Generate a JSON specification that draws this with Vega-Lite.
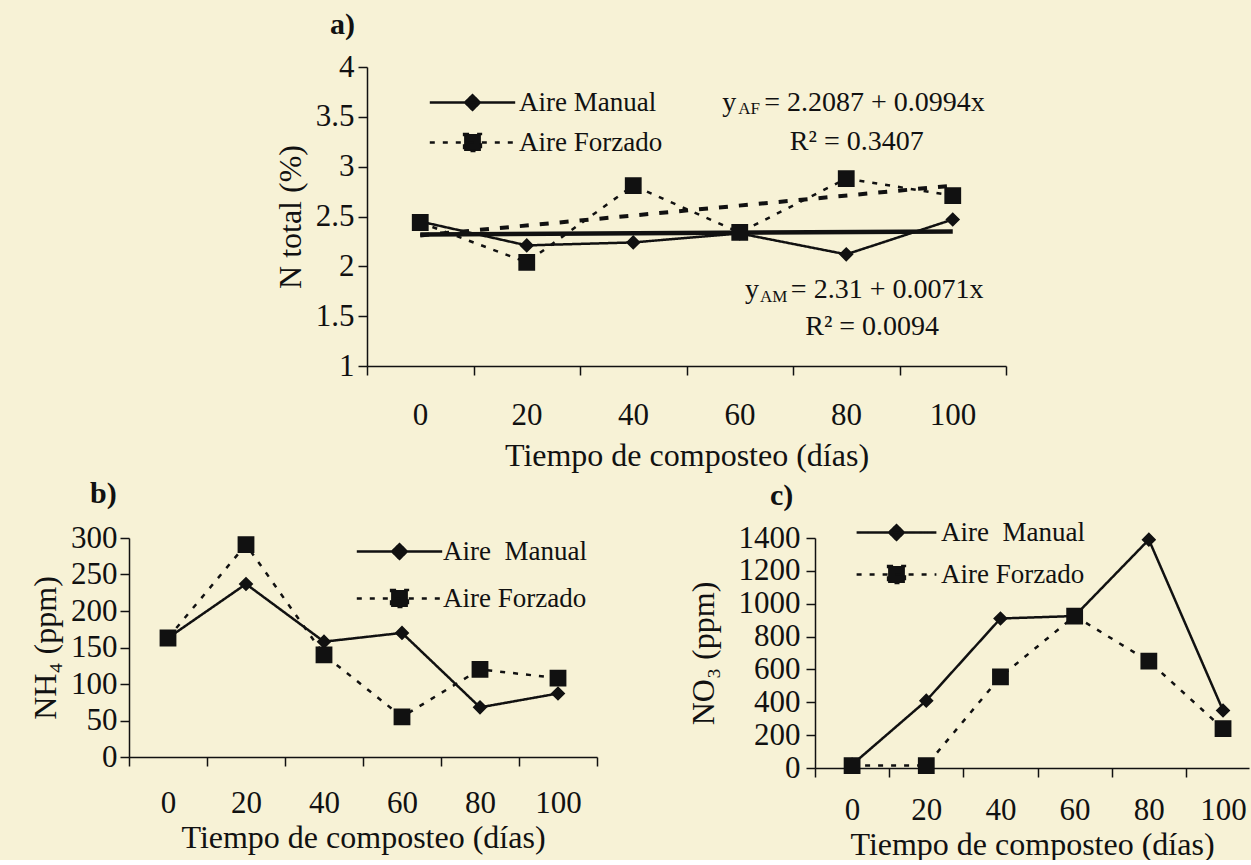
{
  "$schema": "https://vega.github.io/schema/vega-lite/v6.json",
  "background": "#f7f2d6",
  "padding": {"left": 29, "top": 10, "right": 0, "bottom": 0},
  "config": {
    "font": "Liberation Serif",
    "view": {"stroke": null},
    "axis": {"domainColor": "#111", "domainWidth": 1.5, "tickColor": "#111", "tickWidth": 1.5, "tickSize": 9, "labelColor": "#111", "titleColor": "#111", "labelFont": "Liberation Serif", "titleFont": "Liberation Serif", "labelFontSize": 31, "titleFontSize": 32, "titleFontWeight": "normal", "grid": false, "labelFlush": false, "labelOverlap": false},
    "legend": {"labelFont": "Liberation Serif", "labelFontSize": 27, "labelColor": "#111", "symbolFillColor": "#111", "symbolStrokeColor": "#111", "symbolStrokeWidth": 2.5, "symbolSize": 196, "padding": 0, "symbolOpacity": 1},
    "title": {"font": "Liberation Serif", "fontSize": 30, "fontWeight": "bold", "color": "#111", "anchor": "start", "frame": "group"}
  },
  "datasets": {
    "nt": [
      {"serie": "Aire Manual", "dia": 0, "valor": 2.45},
      {"serie": "Aire Manual", "dia": 20, "valor": 2.21},
      {"serie": "Aire Manual", "dia": 40, "valor": 2.24},
      {"serie": "Aire Manual", "dia": 60, "valor": 2.33},
      {"serie": "Aire Manual", "dia": 80, "valor": 2.12},
      {"serie": "Aire Manual", "dia": 100, "valor": 2.47},
      {"serie": "Aire Forzado", "dia": 0, "valor": 2.44},
      {"serie": "Aire Forzado", "dia": 20, "valor": 2.04},
      {"serie": "Aire Forzado", "dia": 40, "valor": 2.81},
      {"serie": "Aire Forzado", "dia": 60, "valor": 2.34},
      {"serie": "Aire Forzado", "dia": 80, "valor": 2.88},
      {"serie": "Aire Forzado", "dia": 100, "valor": 2.71}
    ],
    "tendAM": [
      {"dia": 0, "valor": 2.32},
      {"dia": 100, "valor": 2.35}
    ],
    "tendAF": [
      {"dia": 0, "valor": 2.31},
      {"dia": 100, "valor": 2.81}
    ],
    "eqBig": [
      {"t": "y", "dia": 56.7, "valor": 3.64},
      {"t": "= 2.2087 + 0.0994x", "dia": 64.6, "valor": 3.64},
      {"t": "R² = 0.3407", "dia": 69.4, "valor": 3.25},
      {"t": "y", "dia": 61.0, "valor": 1.76},
      {"t": "= 2.31 + 0.0071x", "dia": 69.6, "valor": 1.76},
      {"t": "R² = 0.0094", "dia": 72.3, "valor": 1.39}
    ],
    "eqSmall": [
      {"t": "AF", "dia": 59.7, "valor": 3.58},
      {"t": "AM", "dia": 63.8, "valor": 1.69}
    ],
    "vacio": [],
    "nh4": [
      {"serie": "Aire\u00a0 Manual", "dia": 0, "valor": 163},
      {"serie": "Aire\u00a0 Manual", "dia": 20, "valor": 237},
      {"serie": "Aire\u00a0 Manual", "dia": 40, "valor": 158},
      {"serie": "Aire\u00a0 Manual", "dia": 60, "valor": 170},
      {"serie": "Aire\u00a0 Manual", "dia": 80, "valor": 68},
      {"serie": "Aire\u00a0 Manual", "dia": 100, "valor": 87},
      {"serie": "Aire Forzado", "dia": 0, "valor": 163},
      {"serie": "Aire Forzado", "dia": 20, "valor": 291},
      {"serie": "Aire Forzado", "dia": 40, "valor": 140},
      {"serie": "Aire Forzado", "dia": 60, "valor": 55},
      {"serie": "Aire Forzado", "dia": 80, "valor": 120},
      {"serie": "Aire Forzado", "dia": 100, "valor": 108}
    ],
    "no3": [
      {"serie": "Aire\u00a0 Manual", "dia": 0, "valor": 20},
      {"serie": "Aire\u00a0 Manual", "dia": 20, "valor": 410},
      {"serie": "Aire\u00a0 Manual", "dia": 40, "valor": 910},
      {"serie": "Aire\u00a0 Manual", "dia": 60, "valor": 925},
      {"serie": "Aire\u00a0 Manual", "dia": 80, "valor": 1390},
      {"serie": "Aire\u00a0 Manual", "dia": 100, "valor": 350},
      {"serie": "Aire Forzado", "dia": 0, "valor": 15},
      {"serie": "Aire Forzado", "dia": 20, "valor": 15},
      {"serie": "Aire Forzado", "dia": 40, "valor": 555},
      {"serie": "Aire Forzado", "dia": 60, "valor": 925},
      {"serie": "Aire Forzado", "dia": 80, "valor": 650},
      {"serie": "Aire Forzado", "dia": 100, "valor": 240}
    ]
  },
  "bounds": "flush",
  "spacing": 471,
  "resolve": {"scale": {"shape": "independent", "strokeDash": "independent"}, "legend": {"shape": "independent", "strokeDash": "independent"}},
  "vconcat": [
    {
      "bounds": "flush",
      "spacing": 138,
      "hconcat": [
        {"width": 100, "height": 10, "data": {"name": "vacio"}, "mark": "point", "encoding": {}},
        {
          "width": 639,
          "height": 299,
          "title": {"text": "a)", "dx": -37, "offset": 11},
          "encoding": {
            "x": {"field": "dia", "type": "quantitative", "scale": {"domain": [-10, 110], "nice": false, "zero": false},
              "axis": {"values": [-10, 10, 30, 50, 70, 90, 110], "labelExpr": "datum.value >= 110 ? '' : '' + (datum.value + 10)", "labelOffset": 53, "labelPadding": 25, "title": "Tiempo de composteo (días)", "titlePadding": 10}},
            "y": {"field": "valor", "type": "quantitative", "scale": {"domain": [1, 4], "nice": false, "zero": false},
              "axis": {"values": [1, 1.5, 2, 2.5, 3, 3.5, 4], "format": "~g", "labelPadding": 4, "title": "N total (%)", "titlePadding": 8}}
          },
          "layer": [
            {"data": {"name": "nt"}, "mark": {"type": "line", "strokeWidth": 2.5, "color": "#111"},
              "encoding": {"strokeDash": {"field": "serie", "type": "nominal", "scale": {"domain": ["Aire Manual", "Aire Forzado"], "range": [[1, 0], [5, 8]]},
                "legend": {"title": null, "orient": "none", "legendX": 330, "legendY": 22, "labelOffset": 33, "rowPadding": 12,
                  "encode": {"symbols": {"update": {"stroke": {"value": "#111"}, "strokeWidth": {"value": 2.5}, "fill": {"value": "#111"}, "opacity": {"value": 1}}}}}}}},
            {"data": {"name": "tendAF"}, "mark": {"type": "line", "strokeWidth": 4, "strokeDash": [9, 11], "color": "#111"}, "encoding": {}},
            {"data": {"name": "tendAM"}, "mark": {"type": "line", "strokeWidth": 4.5, "color": "#111"}, "encoding": {}},
            {"data": {"name": "nt"}, "mark": {"type": "point", "filled": true, "size": 196, "opacity": 1, "color": "#111", "strokeWidth": 0},
              "encoding": {"shape": {"field": "serie", "type": "nominal", "scale": {"domain": ["Aire Manual", "Aire Forzado"], "range": ["M-6.1,0H6.1M0,-1.05L1.05,0L0,1.05L-1.05,0Z", "M-6.1,0H6.1M-1.2,-1.2H1.2V1.2H-1.2Z"]},
                "legend": {"title": null, "orient": "none", "legendX": 330, "legendY": 22, "labelOffset": 33, "rowPadding": 12,
                  "encode": {"symbols": {"update": {"stroke": {"value": "#111"}, "strokeWidth": {"value": 2.5}, "fill": {"value": "#111"}, "opacity": {"value": 1}}}}}}}},
            {"data": {"name": "eqBig"}, "mark": {"type": "text", "align": "left", "baseline": "middle", "fontSize": 28, "color": "#111"},
              "encoding": {"text": {"field": "t"}}},
            {"data": {"name": "eqSmall"}, "mark": {"type": "text", "align": "left", "baseline": "middle", "fontSize": 17, "color": "#111"},
              "encoding": {"text": {"field": "t"}}}
          ]
        }
      ]
    },
    {
      "bounds": "flush",
      "spacing": 218,
      "resolve": {"scale": {"shape": "independent", "strokeDash": "independent"}, "legend": {"shape": "independent", "strokeDash": "independent"}},
      "hconcat": [
        {
          "width": 468,
          "height": 219,
          "title": {"text": "b)", "dx": -39, "offset": 13},
          "data": {"name": "nh4"},
          "encoding": {
            "x": {"field": "dia", "type": "quantitative", "scale": {"domain": [-10, 110], "nice": false, "zero": false},
              "axis": {"values": [-10, 10, 30, 50, 70, 90, 110], "labelExpr": "datum.value >= 110 ? '' : '' + (datum.value + 10)", "labelOffset": 39, "labelPadding": 22, "title": "Tiempo de composteo (días)", "titlePadding": 4}},
            "y": {"field": "valor", "type": "quantitative", "scale": {"domain": [0, 300], "nice": false},
              "axis": {"values": [0, 50, 100, 150, 200, 250, 300], "format": "d", "labelPadding": 3, "title": "NH₄ (ppm)", "titlePadding": 8}}
          },
          "layer": [
            {"mark": {"type": "line", "strokeWidth": 2.5, "color": "#111"},
              "encoding": {"strokeDash": {"field": "serie", "type": "nominal", "scale": {"domain": ["Aire\u00a0 Manual", "Aire Forzado"], "range": [[1, 0], [5, 8]]},
                "legend": {"title": null, "orient": "none", "legendX": 257, "legendY": 0, "labelOffset": 30, "rowPadding": 19,
                  "encode": {"symbols": {"update": {"stroke": {"value": "#111"}, "strokeWidth": {"value": 2.5}, "fill": {"value": "#111"}, "opacity": {"value": 1}}}}}}}},
            {"mark": {"type": "point", "filled": true, "size": 196, "opacity": 1, "color": "#111", "strokeWidth": 0},
              "encoding": {"shape": {"field": "serie", "type": "nominal", "scale": {"domain": ["Aire\u00a0 Manual", "Aire Forzado"], "range": ["M-6.1,0H6.1M0,-1.05L1.05,0L0,1.05L-1.05,0Z", "M-6.1,0H6.1M-1.2,-1.2H1.2V1.2H-1.2Z"]},
                "legend": {"title": null, "orient": "none", "legendX": 257, "legendY": 0, "labelOffset": 30, "rowPadding": 19,
                  "encode": {"symbols": {"update": {"stroke": {"value": "#111"}, "strokeWidth": {"value": 2.5}, "fill": {"value": "#111"}, "opacity": {"value": 1}}}}}}}}
          ]
        },
        {
          "width": 434,
          "height": 230,
          "title": {"text": "c)", "dx": -45, "offset": 8},
          "data": {"name": "no3"},
          "encoding": {
            "x": {"field": "dia", "type": "quantitative", "scale": {"domain": [-10, 107], "nice": false, "zero": false},
              "axis": {"values": [-10, 10, 30, 50, 70, 90], "labelExpr": "'' + (datum.value + 10)", "labelOffset": 37, "labelPadding": 18, "title": "Tiempo de composteo (días)", "titlePadding": 4}},
            "y": {"field": "valor", "type": "quantitative", "scale": {"domain": [0, 1400], "nice": false},
              "axis": {"values": [0, 200, 400, 600, 800, 1000, 1200, 1400], "format": "d", "labelPadding": 6, "title": "NO₃ (ppm)", "titlePadding": 18}}
          },
          "layer": [
            {"mark": {"type": "line", "strokeWidth": 2.5, "color": "#111"},
              "encoding": {"strokeDash": {"field": "serie", "type": "nominal", "scale": {"domain": ["Aire\u00a0 Manual", "Aire Forzado"], "range": [[1, 0], [5, 8]]},
                "legend": {"title": null, "orient": "none", "legendX": 68, "legendY": -19, "labelOffset": 31, "rowPadding": 14,
                  "encode": {"symbols": {"update": {"stroke": {"value": "#111"}, "strokeWidth": {"value": 2.5}, "fill": {"value": "#111"}, "opacity": {"value": 1}}}}}}}},
            {"mark": {"type": "point", "filled": true, "size": 196, "opacity": 1, "color": "#111", "strokeWidth": 0},
              "encoding": {"shape": {"field": "serie", "type": "nominal", "scale": {"domain": ["Aire\u00a0 Manual", "Aire Forzado"], "range": ["M-5.7,0H5.7M0,-1.05L1.05,0L0,1.05L-1.05,0Z", "M-5.7,0H5.7M-1.2,-1.2H1.2V1.2H-1.2Z"]},
                "legend": {"title": null, "orient": "none", "legendX": 68, "legendY": -19, "labelOffset": 31, "rowPadding": 14,
                  "encode": {"symbols": {"update": {"stroke": {"value": "#111"}, "strokeWidth": {"value": 2.5}, "fill": {"value": "#111"}, "opacity": {"value": 1}}}}}}}}
          ]
        }
      ]
    }
  ]
}
